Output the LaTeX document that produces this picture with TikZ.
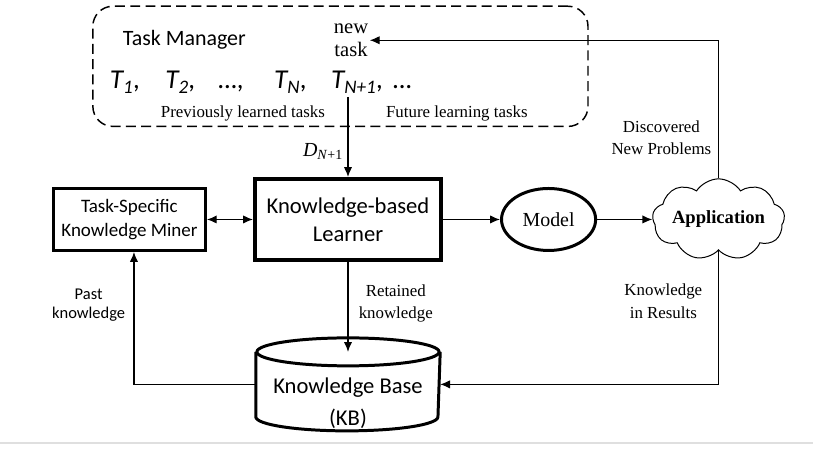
\documentclass[tikz,border=0pt]{standalone}
\usepackage{fontspec}
\setmainfont{Liberation Serif}
\setsansfont{Carlito}
\usetikzlibrary{arrows.meta,positioning,shapes.geometric,shapes.symbols}

\begin{document}
\begin{tikzpicture}[
  node distance=5mm,
  learnerbox/.style={draw, line width=3pt, minimum width=49.2mm, minimum height=21.4mm, align=center, font=\sffamily\fontsize{17}{21}\selectfont},
  minerbox/.style={draw, line width=2.25pt, minimum width=40.2mm, minimum height=16.4mm, align=center, font=\sffamily\fontsize{14.3}{18}\selectfont},
  modelnode/.style={draw, ellipse, line width=2.25pt, minimum width=24.9mm, minimum height=16.4mm, font=\fontsize{15}{18}\selectfont},
  appcloud/.style={draw, cloud, cloud puffs=9, cloud puff arc=115, cloud ignores aspect, line width=0.75pt, minimum width=35mm, minimum height=21.5mm, inner sep=0pt, font=\bfseries\fontsize{14}{17}\selectfont},
  kbstore/.style={minimum width=48.8mm, minimum height=25.2mm, outer sep=0pt},
  kbline/.style={line width=2.25pt},
  taskpanel/.style={draw, dash pattern=on 7.5pt off 4pt, line width=1.1pt, rounded corners=5.3mm, minimum width=131mm, minimum height=31.8mm},
  lbl/.style={align=center, font=\fontsize{12.7}{17}\selectfont},
  sanslbl/.style={align=center, font=\sffamily\fontsize{12.4}{14}\selectfont},
  arrow/.style={-{Latex[length=2.6mm, width=2.2mm]}, line width=1pt},
  twoway/.style={{Latex[length=2.6mm, width=2.2mm]}-{Latex[length=2.6mm, width=2.2mm]}, line width=1pt},
  thinarrow/.style={-{Latex[length=2.6mm, width=2.2mm]}, line width=0.8pt}
]
  \fill[white] (-92.07mm,-60.99mm) rectangle (123.03mm,58.07mm);
  \useasboundingbox (-92.07mm,-60.99mm) rectangle (123.03mm,58.07mm);
  \draw[gray!25, line width=0.8pt] (-92.07mm,-59.13mm) -- (123.03mm,-59.13mm);

  \node[learnerbox] (learner) {Knowledge-based\\Learner};
  \node[minerbox, left=12.2mm of learner] (miner) {Task-Specific\\Knowledge Miner};
  \node[modelnode, right=15.1mm of learner] (model) {Model};
  \node[appcloud, right=14.6mm of model] (app) {Application};

  % knowledge base drum
  \node[kbstore, below=19.8mm of learner] (kb) {};
  \draw[kbline] ([yshift=-4mm]kb.north) ellipse [x radius=24.1mm, y radius=3.7mm];
  \draw[kbline] ([yshift=-4mm]kb.north west) -- ([yshift=4mm]kb.south west)
    arc[start angle=180, end angle=360, x radius=24.1mm, y radius=3.7mm] -- ([yshift=-4mm]kb.north east);
  \node[align=center, font=\sffamily\fontsize{17}{23.5}\selectfont] (kbtext) at ([yshift=-5mm]kb.center) {Knowledge Base\\(KB)};

  % task manager panel
  \node[taskpanel, above=13.2mm of learner, xshift=-2mm] (tm) {};
  \node[font=\sffamily\fontsize{16.5}{20}\selectfont] (tmtitle) at ([shift={(-41.3mm,6.9mm)}]tm.center) {Task Manager};
  \node[align=center, inner sep=1pt, font=\fontsize{15.5}{17}\selectfont] (newtask) at ([shift={(2.8mm,6.9mm)}]tm.center) {new\\task};
  \node[font=\sffamily\itshape\fontsize{20.5}{22}\selectfont] (tasks) at ([shift={(-21mm,-4.2mm)}]tm.center)
    {T\textsubscript{1},\hspace{0.92em}T\textsubscript{2},\hspace{0.84em}…,\hspace{1.1em}T\textsubscript{N},\hspace{0.88em}T\textsubscript{N+1},\hspace{0.37em}…};
  \node[lbl] (prev) at ([shift={(-25.8mm,-12.4mm)}]tm.center) {Previously learned tasks};
  \node[lbl] (future) at ([shift={(30.8mm,-12.4mm)}]tm.center) {Future learning tasks};
  \coordinate (split) at ([yshift=21.2mm]learner.north);

  \draw[arrow] (split) -- node[pos=0.68, left, font=\fontsize{15}{17}\selectfont] {\textit{D}\textsubscript{\textit{N}+1}} (learner);
  \draw[twoway] (miner) -- (learner);
  \draw[arrow] (learner) -- (model);
  \draw[arrow] (model) -- (app);
  \draw[arrow] (learner) -- node[lbl, pos=0.46, right, xshift=1.5mm] {Retained\\knowledge} ([yshift=-4mm]kb.north);
  \draw[arrow] (kb.west) -| node[sanslbl, pos=0.8, left, xshift=-1mm] {Past\\knowledge} ([xshift=1.2mm]miner.south);

  \draw[thinarrow] (app.north) |- node[lbl, pos=0.147, left, xshift=-0.6mm] {Discovered\\New Problems} (newtask.east);
  \draw[thinarrow] (app.south) |- node[lbl, pos=0.19, left, xshift=-3mm] {Knowledge\\in Results} (kb.east);
\end{tikzpicture}
\end{document}
